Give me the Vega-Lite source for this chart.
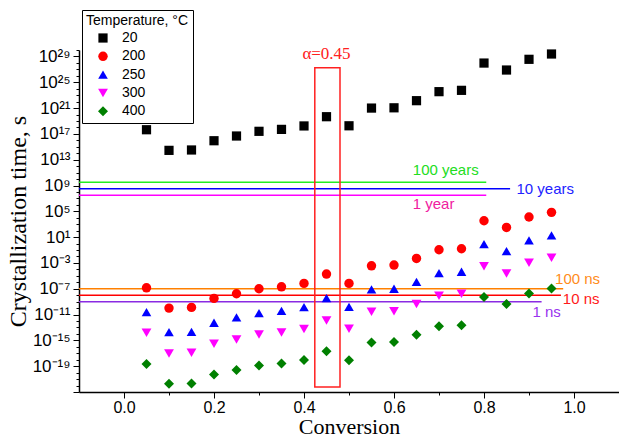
{
  "$schema": "https://vega.github.io/schema/vega-lite/v6.json",
  "width": 540,
  "height": 342,
  "autosize": "none",
  "padding": {"left": 79, "top": 50, "right": 0, "bottom": 46},
  "background": "white",
  "config": {
    "view": {"stroke": null},
    "axis": {"grid": false, "domainColor": "black", "tickColor": "black", "labelColor": "black", "titleColor": "black", "labelFont": "Liberation Sans", "titleFont": "Liberation Serif", "titleFontWeight": "normal", "domainWidth": 1.5, "tickWidth": 1},
    "legend": {"orient": "none", "legendX": 3, "legendY": -40, "strokeColor": "black", "fillColor": "white", "padding": 4,
      "titleFont": "Liberation Sans", "titleFontSize": 14, "titleFontWeight": "normal", "titleColor": "black", "titlePadding": 3,
      "labelFont": "Liberation Sans", "labelFontSize": 14, "labelColor": "black", "symbolOffset": 10, "labelOffset": 12, "rowPadding": 4.3, "symbolSize": 95, "symbolStrokeWidth": 0}
  },
  "datasets": {
    "pts": [
      {"T": "20", "x": 0.05, "t": 4.4e17}, {"T": "20", "x": 0.1, "t": 2.8e14}, {"T": "20", "x": 0.15, "t": 3.2e14}, {"T": "20", "x": 0.2, "t": 8.7e15}, {"T": "20", "x": 0.25, "t": 4.7e16}, {"T": "20", "x": 0.3, "t": 2.5e17}, {"T": "20", "x": 0.35, "t": 5.0e17}, {"T": "20", "x": 0.4, "t": 1.7e18}, {"T": "20", "x": 0.45, "t": 4.6e19}, {"T": "20", "x": 0.5, "t": 1.8e18}, {"T": "20", "x": 0.55, "t": 1.0e21}, {"T": "20", "x": 0.6, "t": 1.1e21}, {"T": "20", "x": 0.65, "t": 1.4e22}, {"T": "20", "x": 0.7, "t": 3.5e23}, {"T": "20", "x": 0.75, "t": 5.6e23}, {"T": "20", "x": 0.8, "t": 9.5e27}, {"T": "20", "x": 0.85, "t": 7.9e26}, {"T": "20", "x": 0.9, "t": 3.6e28}, {"T": "20", "x": 0.95, "t": 2.4e29},
      {"T": "200", "x": 0.05, "t": 1.4e-7}, {"T": "200", "x": 0.1, "t": 1.0e-10}, {"T": "200", "x": 0.15, "t": 1.3e-10}, {"T": "200", "x": 0.2, "t": 3.2e-9}, {"T": "200", "x": 0.25, "t": 1.7e-8}, {"T": "200", "x": 0.3, "t": 1.0e-7}, {"T": "200", "x": 0.35, "t": 2.0e-7}, {"T": "200", "x": 0.4, "t": 6.8e-7}, {"T": "200", "x": 0.45, "t": 1.9e-5}, {"T": "200", "x": 0.5, "t": 6.8e-7}, {"T": "200", "x": 0.55, "t": 3.6e-4}, {"T": "200", "x": 0.6, "t": 4.7e-4}, {"T": "200", "x": 0.65, "t": 5.0e-3}, {"T": "200", "x": 0.7, "t": 0.11}, {"T": "200", "x": 0.75, "t": 0.16}, {"T": "200", "x": 0.8, "t": 3500}, {"T": "200", "x": 0.85, "t": 320}, {"T": "200", "x": 0.9, "t": 1.3e4}, {"T": "200", "x": 0.95, "t": 6.9e4},
      {"T": "250", "x": 0.05, "t": 2.4e-11}, {"T": "250", "x": 0.1, "t": 1.9e-14}, {"T": "250", "x": 0.15, "t": 2.1e-14}, {"T": "250", "x": 0.2, "t": 5.4e-13}, {"T": "250", "x": 0.25, "t": 3.6e-12}, {"T": "250", "x": 0.3, "t": 1.7e-11}, {"T": "250", "x": 0.35, "t": 3.8e-11}, {"T": "250", "x": 0.4, "t": 1.4e-10}, {"T": "250", "x": 0.45, "t": 3.5e-9}, {"T": "250", "x": 0.5, "t": 1.6e-10}, {"T": "250", "x": 0.55, "t": 7.9e-8}, {"T": "250", "x": 0.6, "t": 1.0e-7}, {"T": "250", "x": 0.65, "t": 1.2e-6}, {"T": "250", "x": 0.7, "t": 2.7e-5}, {"T": "250", "x": 0.75, "t": 4.3e-5}, {"T": "250", "x": 0.8, "t": 0.83}, {"T": "250", "x": 0.85, "t": 0.069}, {"T": "250", "x": 0.9, "t": 3.1}, {"T": "250", "x": 0.95, "t": 19},
      {"T": "300", "x": 0.05, "t": 1.5e-14}, {"T": "300", "x": 0.1, "t": 9.3e-18}, {"T": "300", "x": 0.15, "t": 1.2e-17}, {"T": "300", "x": 0.2, "t": 3.0e-16}, {"T": "300", "x": 0.25, "t": 1.4e-15}, {"T": "300", "x": 0.3, "t": 8.3e-15}, {"T": "300", "x": 0.35, "t": 1.7e-14}, {"T": "300", "x": 0.4, "t": 6.0e-14}, {"T": "300", "x": 0.45, "t": 1.2e-12}, {"T": "300", "x": 0.5, "t": 6.3e-14}, {"T": "300", "x": 0.55, "t": 2.7e-11}, {"T": "300", "x": 0.6, "t": 3.4e-11}, {"T": "300", "x": 0.65, "t": 4.2e-10}, {"T": "300", "x": 0.7, "t": 8.1e-9}, {"T": "300", "x": 0.75, "t": 1.7e-8}, {"T": "300", "x": 0.8, "t": 3.2e-4}, {"T": "300", "x": 0.85, "t": 2.4e-5}, {"T": "300", "x": 0.9, "t": 1.1e-3}, {"T": "300", "x": 0.95, "t": 6.3e-3},
      {"T": "400", "x": 0.05, "t": 2.1e-19}, {"T": "400", "x": 0.1, "t": 1.9e-22}, {"T": "400", "x": 0.15, "t": 2.1e-22}, {"T": "400", "x": 0.2, "t": 5.2e-21}, {"T": "400", "x": 0.25, "t": 2.5e-20}, {"T": "400", "x": 0.3, "t": 1.3e-19}, {"T": "400", "x": 0.35, "t": 2.6e-19}, {"T": "400", "x": 0.4, "t": 9.5e-19}, {"T": "400", "x": 0.45, "t": 2.1e-17}, {"T": "400", "x": 0.5, "t": 8.7e-19}, {"T": "400", "x": 0.55, "t": 4.8e-16}, {"T": "400", "x": 0.6, "t": 5.4e-16}, {"T": "400", "x": 0.65, "t": 7.2e-15}, {"T": "400", "x": 0.7, "t": 1.6e-13}, {"T": "400", "x": 0.75, "t": 2.3e-13}, {"T": "400", "x": 0.8, "t": 5.1e-9}, {"T": "400", "x": 0.85, "t": 4.2e-10}, {"T": "400", "x": 0.9, "t": 1.9e-8}, {"T": "400", "x": 0.95, "t": 1.1e-7}
    ],
    "refs": [
      {"ref": "100 years", "t": 3.156e9, "x1": -0.1, "x2": 0.805, "lx": 0.715, "ly": 2.5e11},
      {"ref": "10 years", "t": 3.156e8, "x1": -0.1, "x2": 0.858, "lx": 0.936, "ly": 2.8e8},
      {"ref": "1 year", "t": 3.156e7, "x1": -0.1, "x2": 0.805, "lx": 0.688, "ly": 1.2e6},
      {"ref": "100 ns", "t": 1e-7, "x1": -0.1, "x2": 0.976, "lx": 1.008, "ly": 3.5e-6},
      {"ref": "10 ns", "t": 1e-8, "x1": -0.1, "x2": 0.971, "lx": 1.016, "ly": 2.2e-9},
      {"ref": "1 ns", "t": 1e-9, "x1": -0.1, "x2": 0.928, "lx": 0.939, "ly": 2.7e-11}
    ],
    "box": [
      {"x1": 0.424, "x2": 0.48, "y1": 6e-23, "y2": 1.8e27, "label": "α=0.45", "lx": 0.45, "ly": 2.4e29}
    ]
  },
  "layer": [
    {
      "data": {"name": "refs"},
      "mark": {"type": "rule", "strokeWidth": 1.5},
      "encoding": {
        "x": {"field": "x1", "type": "quantitative"},
        "x2": {"field": "x2"},
        "y": {"field": "t", "type": "quantitative"},
        "stroke": {"field": "ref", "type": "nominal", "legend": null,
          "scale": {"domain": ["100 years", "10 years", "1 year", "100 ns", "10 ns", "1 ns"], "range": ["#22ee22", "#0000ff", "#ff00ff", "#ff8000", "#ff0000", "#8a2be2"]}}
      }
    },
    {
      "data": {"name": "refs"},
      "mark": {"type": "text", "font": "Liberation Sans", "fontSize": 15, "align": "center", "baseline": "middle"},
      "encoding": {
        "x": {"field": "lx", "type": "quantitative"},
        "y": {"field": "ly", "type": "quantitative"},
        "text": {"field": "ref"},
        "fill": {"field": "ref", "type": "nominal", "legend": null,
          "scale": {"domain": ["100 years", "10 years", "1 year", "100 ns", "10 ns", "1 ns"], "range": ["#22dd22", "#2222ff", "#f020a0", "#ff8c1a", "#ff1a1a", "#9933ee"]}}
      }
    },
    {
      "data": {"name": "box"},
      "mark": {"type": "rect", "fill": null, "fillOpacity": 0, "stroke": "#ff2020", "strokeWidth": 1.5},
      "encoding": {
        "x": {"field": "x1", "type": "quantitative"},
        "x2": {"field": "x2"},
        "y": {"field": "y1", "type": "quantitative"},
        "y2": {"field": "y2"}
      }
    },
    {
      "data": {"name": "box"},
      "mark": {"type": "text", "font": "Liberation Serif", "fontSize": 17, "color": "#ff2020", "align": "center", "baseline": "middle"},
      "encoding": {
        "x": {"field": "lx", "type": "quantitative"},
        "y": {"field": "ly", "type": "quantitative"},
        "text": {"field": "label"}
      }
    },
    {
      "data": {"name": "pts"},
      "mark": {"type": "point", "filled": true, "opacity": 1, "strokeWidth": 0},
      "encoding": {
        "x": {"field": "x", "type": "quantitative",
          "scale": {"domain": [-0.1, 1.1], "nice": false, "zero": false},
          "axis": {"title": "Conversion", "titleFontSize": 22, "titlePadding": 1,
            "values": [0, 0.1, 0.2, 0.3, 0.4, 0.5, 0.6, 0.7, 0.8, 0.9, 1.0],
            "labelExpr": "round(datum.value*10) % 2 == 0 ? format(datum.value, '.1f') : ''",
            "tickSize": {"condition": {"test": "round(datum.value*10) % 2 == 0", "value": 6}, "value": 3},
            "labelFontSize": 16, "labelPadding": 1, "labelFlush": false}},
        "y": {"field": "t", "type": "quantitative",
          "scale": {"type": "log", "domain": [1e-23, 1e30], "nice": false},
          "axis": {"title": "Crystallization time, s", "titleFontSize": 24, "titlePadding": 2,
            "values": [1e-23, 1e-22, 1e-21, 1e-20, 1e-19, 1e-18, 1e-17, 1e-16, 1e-15, 1e-14, 1e-13, 1e-12, 1e-11, 1e-10, 1e-9, 1e-8, 1e-7, 1e-6, 1e-5, 1e-4, 1e-3, 1e-2, 1e-1, 1, 10, 100, 1e3, 1e4, 1e5, 1e6, 1e7, 1e8, 1e9, 1e10, 1e11, 1e12, 1e13, 1e14, 1e15, 1e16, 1e17, 1e18, 1e19, 1e20, 1e21, 1e22, 1e23, 1e24, 1e25, 1e26, 1e27, 1e28, 1e29, 1e30],
            "labelExpr": "(round(log(datum.value)/LN10) - 29) % 4 == 0 && round(log(datum.value)/LN10) >= -19 ? '10' + replace(replace(replace(replace(replace(replace(replace(toString(round(log(datum.value)/LN10)), regexp('1','g'), '¹'), regexp('2','g'), '²'), regexp('3','g'), '³'), regexp('5','g'), '⁵'), regexp('7','g'), '⁷'), regexp('9','g'), '⁹'), '-', '⁻') : ''",
            "tickSize": {"condition": {"test": "(round(log(datum.value)/LN10) - 29) % 4 == 0", "value": 6}, "value": 3},
            "labelFontSize": 17, "labelPadding": 3, "labelFlush": false, "labelOverlap": false}},
        "color": {"field": "T", "type": "nominal",
          "scale": {"domain": ["20", "200", "250", "300", "400"], "range": ["#000000", "#ff0000", "#0000ff", "#ff00ff", "#008000"]},
          "legend": {"title": "Temperature, °C"}},
        "shape": {"field": "T", "type": "nominal",
          "scale": {"domain": ["20", "200", "250", "300", "400"], "range": ["square", "circle", "triangle-up", "triangle-down", "diamond"]},
          "legend": {"title": "Temperature, °C"}},
        "size": {"field": "T", "type": "ordinal", "legend": null,
          "scale": {"domain": ["20", "200", "250", "300", "400"], "range": [85, 100, 125, 125, 105]}}
      }
    }
  ]
}
